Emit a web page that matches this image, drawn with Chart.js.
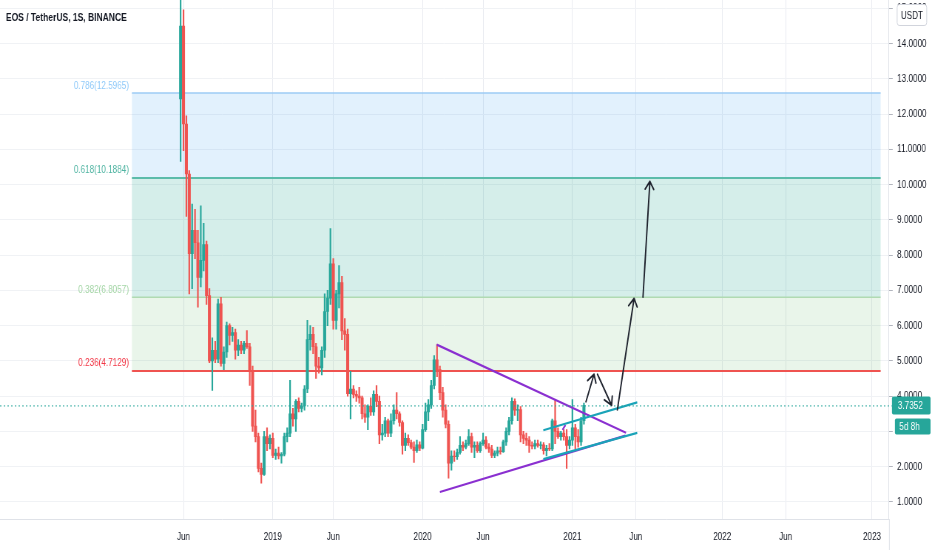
<!DOCTYPE html>
<html>
<head>
<meta charset="utf-8">
<title>EOS / TetherUS</title>
<script src="https://cdn.jsdelivr.net/npm/chart.js@4.4.1/dist/chart.umd.min.js"></script>
<style>
  html, body { margin:0; padding:0; background:#ffffff; overflow:hidden; width:932px; height:550px; }
  #wrap { width:1260px; height:550px; transform:scaleX(0.7396825); transform-origin:0 0; }
  #c { display:block; width:1260px; height:550px; }
</style>
</head>
<body>
<div id="wrap"><canvas id="c" width="1260" height="550"></canvas></div>
<script>
// ---------------- DATA ----------------
const weeks = [
 '2018-05-28','2018-06-04','2018-06-11','2018-06-18','2018-06-25','2018-07-02','2018-07-09','2018-07-16','2018-07-23','2018-07-30',
 '2018-08-06','2018-08-13','2018-08-20','2018-08-27','2018-09-03','2018-09-10','2018-09-17','2018-09-24','2018-10-01','2018-10-08',
 '2018-10-15','2018-10-22','2018-10-29','2018-11-05','2018-11-12','2018-11-19','2018-11-26','2018-12-03','2018-12-10','2018-12-17',
 '2018-12-24','2018-12-31','2019-01-07','2019-01-14','2019-01-21','2019-01-28','2019-02-04','2019-02-11','2019-02-18','2019-02-25',
 '2019-03-04','2019-03-11','2019-03-18','2019-03-25','2019-04-01','2019-04-08','2019-04-15','2019-04-22','2019-04-29','2019-05-06',
 '2019-05-13','2019-05-20','2019-05-27','2019-06-03','2019-06-10','2019-06-17','2019-06-24','2019-07-01','2019-07-08','2019-07-15',
 '2019-07-22','2019-07-29','2019-08-05','2019-08-12','2019-08-19','2019-08-26','2019-09-02','2019-09-09','2019-09-16','2019-09-23',
 '2019-09-30','2019-10-07','2019-10-14','2019-10-21','2019-10-28','2019-11-04','2019-11-11','2019-11-18','2019-11-25','2019-12-02',
 '2019-12-09','2019-12-16','2019-12-23','2019-12-30','2020-01-06','2020-01-13','2020-01-20','2020-01-27','2020-02-03','2020-02-10',
 '2020-02-17','2020-02-24','2020-03-02','2020-03-09','2020-03-16','2020-03-23','2020-03-30','2020-04-06','2020-04-13','2020-04-20',
 '2020-04-27','2020-05-04','2020-05-11','2020-05-18','2020-05-25','2020-06-01','2020-06-08','2020-06-15','2020-06-22','2020-06-29',
 '2020-07-06','2020-07-13','2020-07-20','2020-07-27','2020-08-03','2020-08-10','2020-08-17','2020-08-24','2020-08-31','2020-09-07',
 '2020-09-14','2020-09-21','2020-09-28','2020-10-05','2020-10-12','2020-10-19','2020-10-26','2020-11-02','2020-11-09','2020-11-16',
 '2020-11-23','2020-11-30','2020-12-07','2020-12-14','2020-12-21','2020-12-28','2021-01-04','2021-01-11','2021-01-18','2021-01-25',
 '2021-02-01'
];
const opens = [
 12.43,14.50,11.72,10.30,8.04,8.70,8.35,7.37,7.85,8.30,
 6.85,5.00,5.30,5.05,6.62,4.93,5.25,6.00,5.72,5.80,
 5.30,5.45,5.30,5.50,5.40,4.70,3.15,2.85,1.95,1.78,
 2.85,2.65,2.80,2.32,2.38,2.30,2.35,2.85,2.95,3.50,
 3.35,3.85,3.65,3.72,4.20,5.60,5.75,5.40,4.85,4.80,
 5.30,6.40,6.78,7.75,6.15,6.90,7.22,5.85,5.75,4.07,
 4.20,4.05,4.00,3.95,3.50,3.40,3.72,3.55,4.05,3.85,
 2.90,2.95,3.30,2.95,3.30,3.60,3.50,3.25,2.60,2.80,
 2.68,2.55,2.45,2.62,2.52,3.05,3.55,3.75,4.30,5.03,
 4.75,4.10,3.60,3.20,2.10,2.30,2.28,2.40,2.60,2.55,
 2.65,2.85,2.55,2.60,2.45,2.65,2.75,2.55,2.50,2.32,
 2.38,2.45,2.42,2.70,3.00,3.30,3.85,3.60,3.62,2.90,
 2.80,2.75,2.60,2.58,2.65,2.60,2.62,2.45,2.52,2.50,
 3.30,3.00,2.85,2.95,2.85,2.60,2.75,3.10,2.85,2.70,
 3.30
];
const highs = [
 16.80,14.96,11.95,10.40,9.45,9.30,8.70,9.40,8.90,8.40,
 7.05,5.65,5.55,6.75,6.80,5.40,6.10,6.05,5.95,5.90,
 5.60,5.55,5.55,5.86,5.50,4.85,3.60,2.95,2.10,3.00,
 3.10,2.90,2.95,2.50,2.55,2.40,2.95,3.10,4.45,3.65,
 3.90,3.95,3.80,4.30,6.15,6.00,5.95,5.50,5.10,5.40,
 6.90,7.00,8.75,7.90,7.00,7.70,7.40,6.20,5.90,4.70,
 4.30,4.15,4.25,4.00,3.75,3.75,3.95,4.15,4.30,4.00,
 3.20,3.40,3.35,3.50,3.75,4.10,3.55,3.30,2.95,2.90,
 2.75,2.70,2.75,2.70,3.20,3.80,3.90,4.45,5.15,5.46,
 4.85,4.25,3.75,3.30,2.45,2.45,2.50,2.85,2.70,2.75,
 3.05,2.95,2.70,2.70,2.70,2.95,2.85,2.65,2.60,2.45,
 2.55,2.55,2.75,3.10,3.40,3.95,3.92,3.75,3.70,3.00,
 2.95,2.85,2.70,2.75,2.75,2.70,2.68,2.60,2.65,3.35,
 3.88,3.10,3.00,3.05,3.05,2.85,3.90,3.20,3.05,3.40,
 3.80
];
const lows = [
 10.66,10.96,9.10,6.90,7.05,7.90,6.52,7.10,7.55,6.60,
 4.95,4.16,4.95,4.95,4.85,4.75,5.10,5.45,5.55,5.05,
 5.15,5.20,5.20,5.35,4.30,3.00,2.70,1.85,1.53,1.75,
 2.45,2.50,2.25,2.20,2.22,2.10,2.30,2.70,2.85,3.15,
 3.00,3.55,3.55,3.60,4.10,5.30,5.20,4.50,4.65,4.60,
 5.10,6.00,6.60,5.90,5.90,6.50,5.60,5.30,4.00,3.35,
 3.95,3.85,3.80,3.35,3.25,3.05,3.45,3.45,3.70,2.65,
 2.75,2.85,2.85,2.85,3.20,3.35,3.15,2.35,2.45,2.60,
 2.50,2.12,2.40,2.45,2.50,3.00,3.30,3.65,4.20,4.55,
 3.90,3.40,3.10,1.67,1.90,2.15,2.20,2.35,2.45,2.50,
 2.60,2.40,2.25,2.40,2.40,2.60,2.50,2.40,2.25,2.25,
 2.30,2.35,2.40,2.60,2.90,3.20,3.45,3.30,2.70,2.65,
 2.60,2.40,2.50,2.50,2.55,2.50,2.35,2.30,2.45,2.45,
 2.65,2.80,2.75,2.75,1.95,2.50,2.60,2.50,2.55,2.60,
 3.20
];
const closes = [
 14.50,11.72,10.30,8.04,8.70,8.35,7.37,7.85,8.30,6.85,
 5.00,5.30,5.05,6.62,4.93,5.25,6.00,5.72,5.80,5.30,
 5.45,5.30,5.50,5.40,4.70,3.15,2.85,1.95,1.78,2.85,
 2.65,2.80,2.32,2.38,2.30,2.35,2.85,2.95,3.50,3.35,
 3.85,3.65,3.72,4.20,5.60,5.75,5.40,4.85,4.80,5.30,
 6.40,6.78,7.75,6.15,6.90,7.22,5.85,5.75,4.07,4.20,
 4.05,4.00,3.95,3.50,3.40,3.72,3.55,4.05,3.85,2.90,
 2.95,3.30,2.95,3.30,3.60,3.50,3.25,2.60,2.80,2.68,
 2.55,2.45,2.62,2.52,3.05,3.55,3.75,4.30,5.03,4.75,
 4.10,3.60,3.20,2.10,2.30,2.28,2.40,2.60,2.55,2.65,
 2.85,2.55,2.60,2.45,2.65,2.75,2.55,2.50,2.32,2.38,
 2.45,2.42,2.70,3.00,3.30,3.85,3.60,3.62,2.90,2.80,
 2.75,2.60,2.58,2.65,2.60,2.62,2.45,2.52,2.50,3.30,
 3.00,2.85,2.95,2.85,2.60,2.75,3.10,2.85,2.70,3.30,
 3.7352
];
const yTickValues = [1,2,3,4,5,6,7,8,9,10,11,12,13,14,15];
const xTickDates  = ['2018-06-04','2019-01-07','2019-06-03','2020-01-06','2020-06-01','2021-01-04','2021-06-07','2022-01-03','2022-06-06','2023-01-02'];
const xTickLabels = ['Jun','2019','Jun','2020','Jun','2021','Jun','2022','Jun','2023'];
const fibRatios = ['0.786','0.618','0.382','0.236'];
const fibPrices = [12.5965, 10.1884, 6.8057, 4.7129];
const fibSpanWeeks = [-16.9, 243.0];
const lastPrice = 3.7352;
const barCountdown = '5d 8h';
const titleText = 'EOS / TetherUS, 1S, BINANCE';
const currencyText = 'USDT';
// drawings, in (week index, price)
const triangleUpper = [{x:88.9, y:5.46}, {x:154.6, y:2.96}];
const triangleLower = [{x:90.0, y:1.28}, {x:154.4, y:2.88}];
const channelUpper  = [{x:125.9, y:3.03}, {x:158.5, y:3.82}];
const channelLower  = [{x:125.9, y:2.21}, {x:158.5, y:2.955}];
const purpleTick    = [{x:132.55, y:3.04}, {x:133.6, y:3.18}];
const arrowPaths = [
  [{x:140.7, y:3.84}, {x:143.5, y:4.62}],
  [{x:144.7, y:4.62}, {x:149.6, y:3.74}],
  [{x:151.6, y:3.61}, {x:157.4, y:6.77}],
  [{x:160.5, y:6.81}, {x:162.9, y:10.09}]
];

// ---------------- SETUP ----------------
const S = 932 / 1260;            // horizontal compression of the page canvas
const FONT = '"Liberation Sans", Arial, sans-serif';
const UP = '#26a69a', DOWN = '#ef5350', PURPLE = '#8a2fd0', CYAN = '#1aa3b8', INK = '#131722';
const T0 = Date.UTC(2018, 4, 28);
const weekOf = d => (Date.parse(d + 'T00:00:00Z') - T0) / (7 * 864e5);
const xs = weeks.map(weekOf);
const upFlags = closes.map((c, k) => c >= opens[k]);
const candleColors = upFlags.map(u => u ? UP : DOWN);

Chart.defaults.font.family = FONT;
Chart.defaults.font.size = 11;
Chart.defaults.color = INK;

function lineSet(pts, color, width, order) {
  return { type:'line', data: pts, borderColor: color, borderWidth: width, pointRadius: 0,
           fill: false, tension: 0, order: order };
}

const overlay = {
  id: 'overlay',
  beforeDatasetsDraw(chart) {
    const { ctx, chartArea: a, scales: { x, y } } = chart;
    ctx.save();
    ctx.beginPath(); ctx.rect(a.left, a.top, a.right - a.left, a.bottom - a.top); ctx.clip();
    const x0 = x.getPixelForValue(fibSpanWeeks[0]), x1 = x.getPixelForValue(fibSpanWeeks[1]);
    const fills = ['rgba(33,150,243,0.13)', 'rgba(8,153,129,0.17)', 'rgba(76,175,80,0.12)'];
    for (let k = 0; k < fibPrices.length - 1; k++) {
      const ya = y.getPixelForValue(fibPrices[k]), yb = y.getPixelForValue(fibPrices[k + 1]);
      ctx.fillStyle = fills[k];
      ctx.fillRect(x0, ya, x1 - x0, yb - ya);
    }
    const lineCols = ['#9ccbf4', '#5cbcaa', '#b0dab2', '#ef5350'];
    const lineW = [1.4, 2, 1.4, 2];
    fibPrices.forEach((p, k) => {
      const yy = y.getPixelForValue(p);
      ctx.strokeStyle = lineCols[k]; ctx.lineWidth = lineW[k];
      ctx.beginPath(); ctx.moveTo(x0, yy); ctx.lineTo(x1, yy); ctx.stroke();
    });
    ctx.restore();
  },
  afterDatasetsDraw(chart) {
    const { ctx, chartArea: a, scales: { x, y } } = chart;
    const W = chart.width;
    ctx.save();
    // fib labels
    const labCols = ['#90caf9', '#4fb4a2', '#a5d6a7', '#f23645'];
    const x0 = x.getPixelForValue(fibSpanWeeks[0]);
    ctx.font = '11px ' + FONT; ctx.textAlign = 'right'; ctx.textBaseline = 'middle';
    fibPrices.forEach((p, k) => {
      ctx.fillStyle = labCols[k];
      ctx.fillText(fibRatios[k] + '(' + p.toFixed(4) + ')', x0 - 4, y.getPixelForValue(p) - 7.5);
    });
    // current price dotted line
    const py = y.getPixelForValue(lastPrice);
    ctx.strokeStyle = UP; ctx.lineWidth = 1; ctx.setLineDash([2, 3]);
    ctx.beginPath(); ctx.moveTo(a.left, py + 0.5); ctx.lineTo(a.right + 4, py + 0.5); ctx.stroke();
    ctx.setLineDash([]);
    // arrows
    ctx.save();
    ctx.beginPath(); ctx.rect(a.left, a.top, a.right - a.left, a.bottom - a.top); ctx.clip();
    ctx.strokeStyle = '#1e222d'; ctx.lineWidth = 1.9; ctx.lineCap = 'round'; ctx.lineJoin = 'round';
    arrowPaths.forEach(([p0, p1]) => {
      const ax = x.getPixelForValue(p0.x), ay = y.getPixelForValue(p0.y);
      const bx = x.getPixelForValue(p1.x), by = y.getPixelForValue(p1.y);
      ctx.beginPath(); ctx.moveTo(ax, ay); ctx.lineTo(bx, by);
      const ang = Math.atan2(by - ay, (bx - ax) * S);
      const L = 9, spread = 0.5;
      for (const sg of [-1, 1]) {
        const t = ang + Math.PI + sg * spread;
        ctx.moveTo(bx, by); ctx.lineTo(bx + Math.cos(t) * L / S, by + Math.sin(t) * L);
      }
      ctx.stroke();
    });
    ctx.restore();
    // title
    ctx.fillStyle = INK; ctx.font = 'bold 11.5px ' + FONT; ctx.textAlign = 'left'; ctx.textBaseline = 'middle';
    ctx.fillText(titleText, 8, 18);
    // right axis separator through the time axis
    ctx.strokeStyle = '#dfe2e8'; ctx.lineWidth = 1;
    ctx.beginPath(); ctx.moveTo(a.right + 0.5, a.bottom); ctx.lineTo(a.right + 0.5, chart.height); ctx.stroke();
    // price label
    ctx.fillStyle = UP;
    ctx.beginPath(); ctx.roundRect(a.right + 4, py - 9, W - a.right - 6, 18, 2); ctx.fill();
    ctx.fillStyle = '#ffffff'; ctx.font = '11px ' + FONT; ctx.textAlign = 'left';
    ctx.fillText(lastPrice.toFixed(4), a.right + 12, py + 0.5);
    // countdown label
    ctx.fillStyle = UP;
    ctx.beginPath(); ctx.roundRect(a.right + 8, py + 13, W - a.right - 10, 16, 2); ctx.fill();
    ctx.fillStyle = '#ffffff';
    ctx.fillText(barCountdown, a.right + 14, py + 21.5);
    // currency box
    const ux = a.right + 11, uw = 40;
    ctx.fillStyle = '#ffffff'; ctx.strokeStyle = '#d1d4dc'; ctx.lineWidth = 1;
    ctx.beginPath(); ctx.roundRect(ux, 4.5, uw, 21, 3); ctx.fill(); ctx.stroke();
    ctx.fillStyle = INK; ctx.textAlign = 'center';
    ctx.fillText(currencyText, ux + uw / 2, 15.5);
    ctx.restore();
  }
};

new Chart(document.getElementById('c'), {
  type: 'bar',
  data: {
    datasets: [
      { type:'bar', label:'wick', data: xs.map((v, k) => ({ x: v, y: [lows[k], highs[k]] })),
        backgroundColor: candleColors, borderWidth: 0, barThickness: 1.5, grouped: false, order: 10 },
      { type:'bar', label:'body', data: xs.map((v, k) => ({ x: v, y: [opens[k], closes[k]] })),
        backgroundColor: candleColors, borderWidth: 0, barThickness: 3.4, grouped: false, order: 9 },
      lineSet(triangleUpper, PURPLE, 2.2, 5),
      lineSet(triangleLower, PURPLE, 2.2, 5),
      lineSet(purpleTick, PURPLE, 2, 5),
      lineSet(channelUpper, CYAN, 2.2, 4),
      lineSet(channelLower, CYAN, 2.2, 4)
    ]
  },
  options: {
    responsive: false, animation: false, devicePixelRatio: 1, events: [],
    layout: { padding: 0 },
    plugins: { legend: { display: false }, tooltip: { enabled: false }, title: { display: false } },
    scales: {
      x: {
        type: 'linear', min: -62.69, max: 245.9, offset: false,
        grid: { color: '#e9ebf0', drawTicks: false, offset: false },
        border: { color: '#dfe2e8' },
        ticks: { autoSkip: false, maxRotation: 0, padding: 11, color: INK, font: { size: 11 },
                 callback: (v, i) => xTickLabels[i] ?? '' },
        afterBuildTicks: s => { s.ticks = xTickDates.map(d => ({ value: weekOf(d) })); },
        afterFit: s => { s.height = 31; s.paddingLeft = 0; s.paddingRight = 0; }
      },
      y: {
        type: 'linear', position: 'right', min: 0.513, max: 15.237,
        grid: { color: '#f0f2f5', tickLength: 5, tickColor: '#b2b5be' },
        border: { color: '#dfe2e8' },
        ticks: { padding: 6, color: INK, font: { size: 11 }, callback: v => Number(v).toFixed(4) },
        afterBuildTicks: s => { s.ticks = yTickValues.map(v => ({ value: v })); },
        afterFit: s => { s.width = 1260 - 889 / S; s.paddingTop = 0; s.paddingBottom = 0; }
      }
    }
  },
  plugins: [overlay]
});
</script>
</body>
</html>
